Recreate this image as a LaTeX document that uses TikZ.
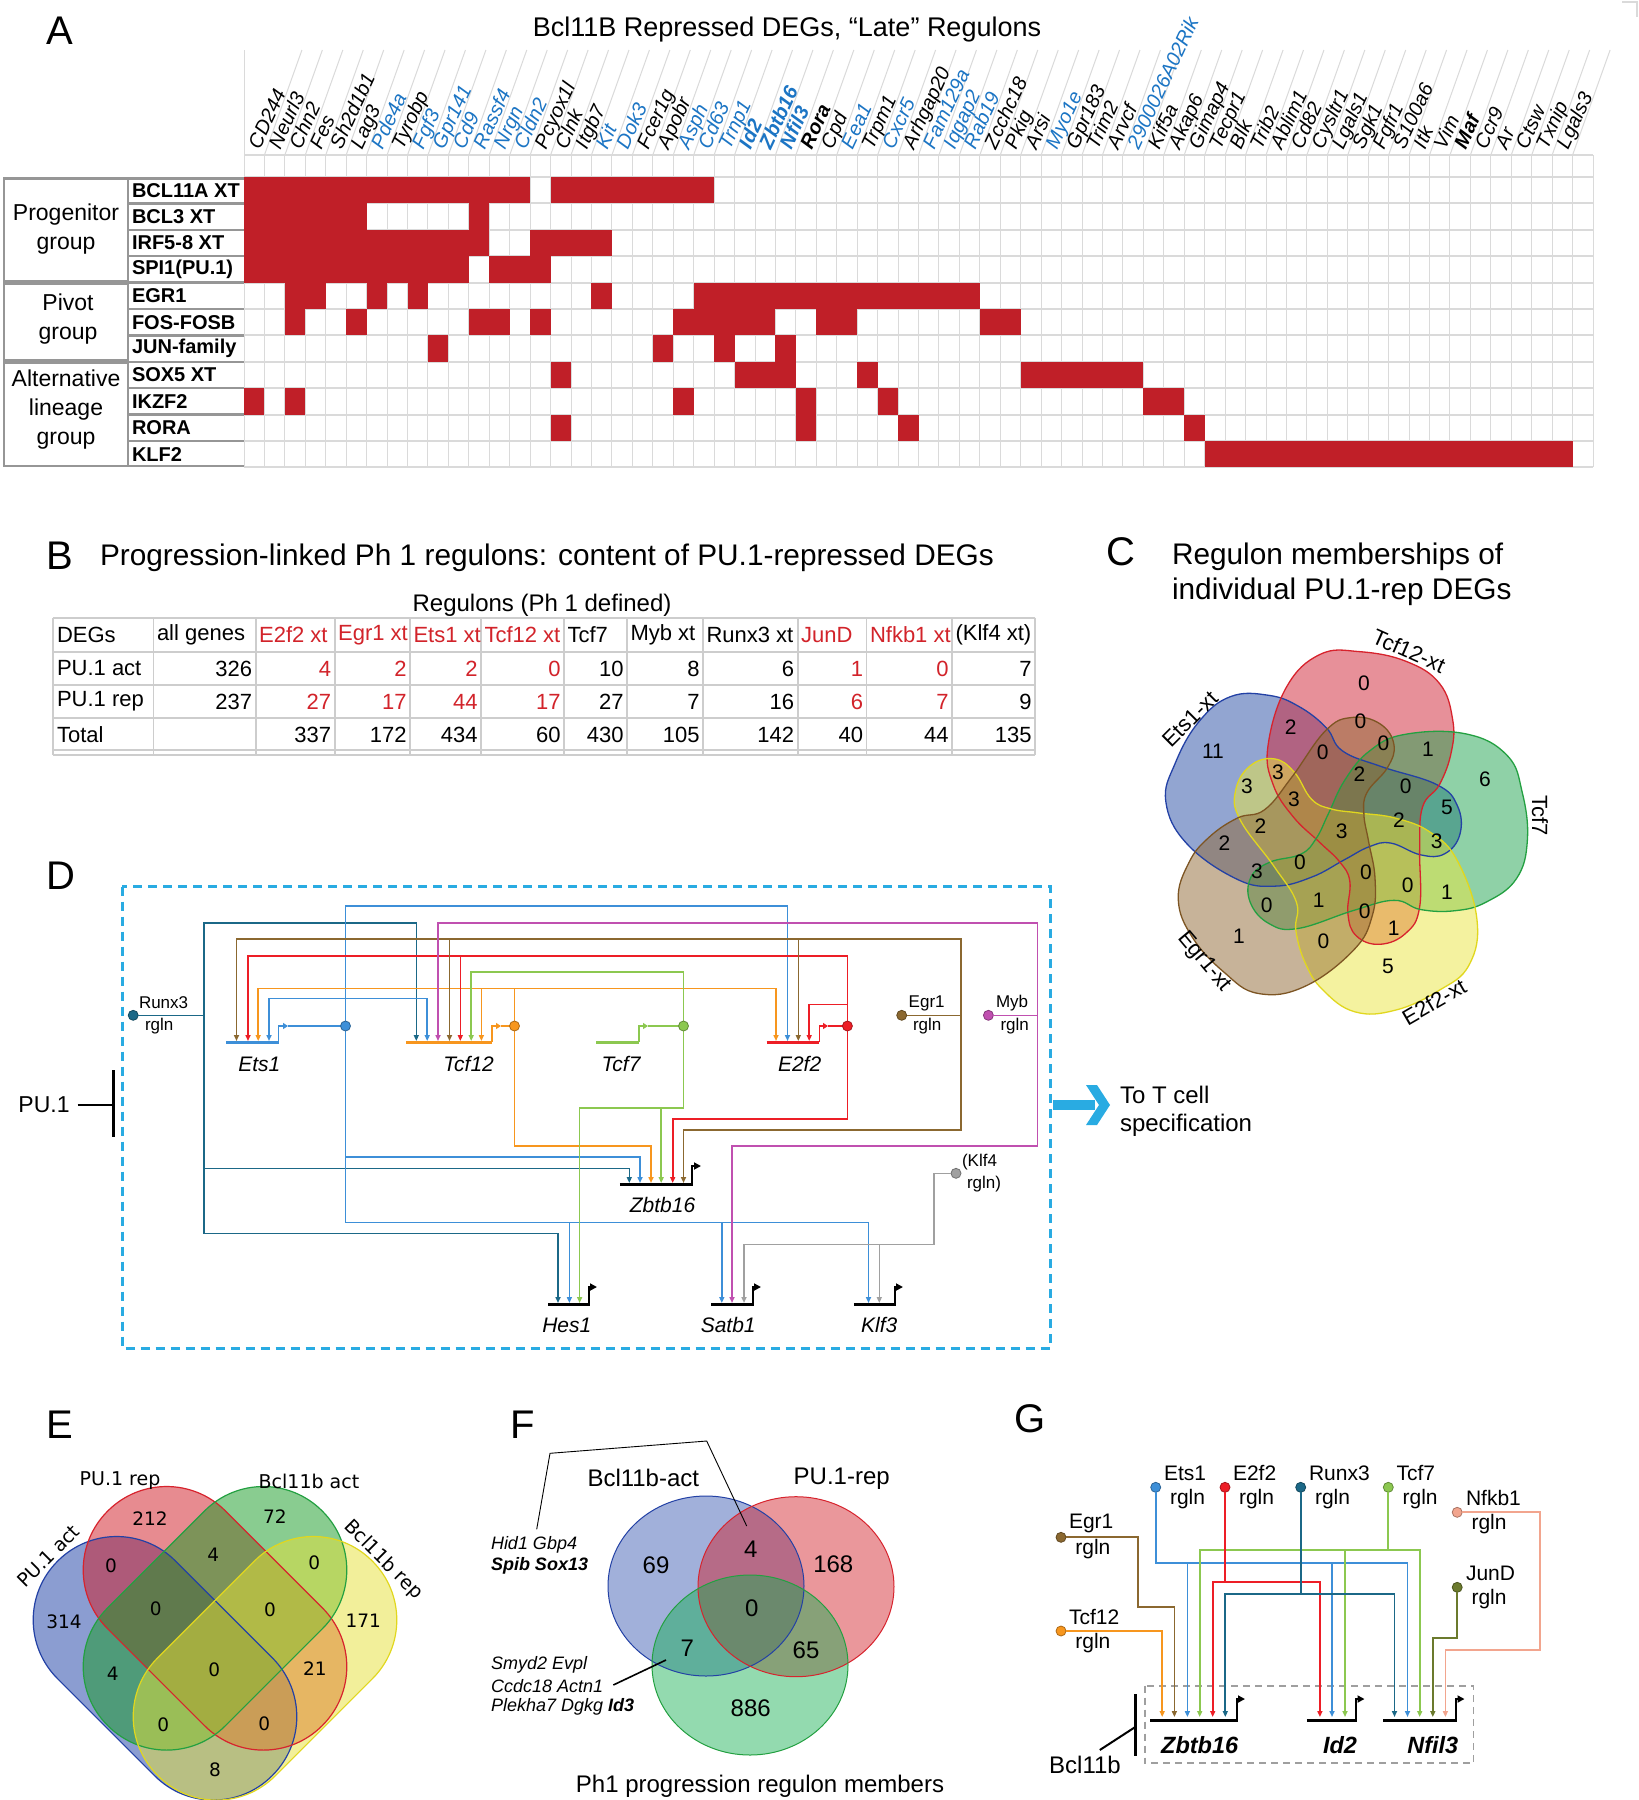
\documentclass[tikz,border=0pt]{standalone}
\usepackage{fontspec}
\setmainfont{Liberation Sans}
\newfontfamily\djv{DejaVu Sans}
\usetikzlibrary{arrows.meta}
\newcommand\fsz[1]{\fontsize{#1}{#1}\selectfont}
\definecolor{cellred}{RGB}{192,31,40}
\definecolor{geneblue}{RGB}{28,117,196}
\definecolor{gridc}{RGB}{218,218,218}
\definecolor{grpline}{RGB}{150,150,150}
\definecolor{tabred}{RGB}{210,35,42}
\definecolor{tabline}{RGB}{205,205,205}
\definecolor{vBlue}{RGB}{39,77,165}
\definecolor{vBlueD}{RGB}{35,65,165}
\definecolor{vRed}{RGB}{209,35,53}
\definecolor{vRedD}{RGB}{215,35,45}
\definecolor{vGreen}{RGB}{33,165,81}
\definecolor{vGreenD}{RGB}{35,160,65}
\definecolor{vYellow}{RGB}{235,231,65}
\definecolor{vYellowD}{RGB}{225,215,30}
\definecolor{vBrown}{RGB}{145,105,53}
\definecolor{vBrownD}{RGB}{125,85,35}
\definecolor{eBlue}{RGB}{25,61,165}
\definecolor{eRed}{RGB}{209,25,35}
\definecolor{eGreen}{RGB}{20,155,35}
\definecolor{eYellow}{RGB}{230,225,55}
\definecolor{cRunx}{RGB}{27,104,135}
\definecolor{cEts}{RGB}{61,143,216}
\definecolor{cTcf12}{RGB}{247,150,30}
\definecolor{cTcf7}{RGB}{140,200,80}
\definecolor{cE2f2}{RGB}{237,30,38}
\definecolor{cEgr1}{RGB}{139,104,48}
\definecolor{cMyb}{RGB}{192,80,176}
\definecolor{cKlf4}{RGB}{160,160,160}
\definecolor{cJunD}{RGB}{107,122,45}
\definecolor{cNfkb}{RGB}{242,165,142}
\definecolor{boxblue}{RGB}{41,171,226}
\begin{document}
\begin{tikzpicture}[x=1pt,y=-1pt,
  every node/.style={inner sep=0pt,outer sep=0pt},
  gk/.style={font=\fsz{20}\itshape,text=black},
  gb/.style={font=\fsz{20}\itshape,text=geneblue},
  gbb/.style={font=\fsz{20}\bfseries\itshape,text=geneblue},
  gkb/.style={font=\fsz{20}\bfseries\itshape,text=black},
  panlab/.style={font=\fsz{40}},
  tabtxt/.style={font=\fsz{22}},
  tfdot/.style={circle,minimum size=10pt,line width=0.8pt},
  wire/.style={line width=1.6pt},
  arr/.style={-{Triangle[length=6pt,width=5pt]}},
  parr/.style={line width=2pt,-{Triangle[length=7pt,width=7pt]}},
  dlab/.style={font=\fsz{17},anchor=west},
  glab/.style={font=\fsz{21},anchor=west},
  dgene/.style={font=\fsz{21}\itshape},
  cnum/.style={font=\fsz{21}},
  enum/.style={font=\djv\fsz{18.5}},
  fnum/.style={font=\fsz{24}},
  flist/.style={font=\fsz{18}\itshape,anchor=west}]
\fill[white] (0,0) rectangle (1639,1800);
\useasboundingbox (0,0) rectangle (1639,1800);

% ================= Panel A =================
\node[panlab] (labA) at (60,31) {A};
\node[font=\fsz{27}] (titleA) at (787,30) {Bcl11B Repressed DEGs, “Late” Regulons};
\draw[gridc,line width=1.5pt] (1622,2) -- (1637,2) -- (1637,17);
\draw[gridc,line width=1pt] (244,155) -- (244,50);
\foreach \k in {1,...,65} \draw[gridc,line width=1pt] ({244+\k*20.44},155) -- ++(37.5,-105);
\foreach \k in {0,...,66} \draw[gridc,line width=1pt] ({244+\k*20.44},155) -- ({244+\k*20.44},467.4);
\foreach \y in {155,177,203.4,229.8,256.2,282.6,309,335.4,361.8,388.2,414.6,441,467.4}
  \draw[gridc,line width=2pt] (244,\y) -- (1593,\y);
\foreach \r/\a/\b in {1/1/14,1/16/23,2/1/6,2/12/12,3/1/12,3/15/18,4/1/11,4/13/15,
  5/3/4,5/7/7,5/9/9,5/18/18,5/23/36,6/3/3,6/6/6,6/12/13,6/15/15,6/22/26,6/29/30,6/37/38,
  7/10/10,7/21/21,7/24/24,7/27/27,8/16/16,8/25/27,8/31/31,8/39/44,
  9/1/1,9/3/3,9/22/22,9/28/28,9/32/32,9/45/46,10/16/16,10/28/28,10/33/33,10/47/47,11/48/65}
  \fill[cellred] ({244+(\a-1)*20.44},{177+(\r-1)*26.4}) rectangle ({244+\b*20.44},{177+\r*26.4});
\foreach \g/\s [count=\i] in {CD244/gk,Neurl3/gk,Chn2/gk,Fes/gk,Sh2d1b1/gk,Lag3/gk,Pde4a/gb,Tyrobp/gk,
  Fgf3/gb,Gpr141/gb,Cd9/gb,Rassf4/gb,Nrgn/gb,Cldn2/gb,Pcyox1l/gk,Clnk/gk,Itgb7/gk,Kit/gb,Dok3/gb,
  Fcer1g/gk,Apobr/gk,Asph/gb,Cd63/gb,Trnp1/gb,Id2/gbb,Zbtb16/gbb,Nfil3/gbb,Rora/gkb,Cpd/gk,Eea1/gb,
  Trpm1/gk,Cxcr5/gb,Arhgap20/gk,Fam129a/gb,Iqgap2/gb,Rab19/gb,Zcchc18/gk,Pkig/gk,Arsi/gk,Myo1e/gb,
  Gpr183/gk,Trim2/gk,Arvcf/gk,2900026A02Rik/gb,Kif5a/gk,Akap6/gk,Gimap4/gk,Tecpr1/gk,Blk/gk,Trib2/gk,
  Ablim1/gk,Cd82/gk,Cysltr1/gk,Lgals1/gk,Sgk1/gk,Fgfr1/gk,S100a6/gk,Itk/gk,Vim/gk,Maf/gkb,Ccr9/gk,
  Ar/gk,Ctsw/gk,Txnip/gk,Lgals3/gk}
  \node[\s,rotate=65,anchor=base west] (gene\i) at ({244+\i*20.44-4.5},150) {\g};
\foreach \t [count=\i] in {BCL11A XT,BCL3 XT,IRF5-8 XT,SPI1(PU.1),EGR1,FOS-FOSB,JUN-family,SOX5 XT,IKZF2,RORA,KLF2}
  \node[font=\fsz{20}\bfseries,anchor=west] (row\i) at (132,{177+(\i-0.5)*26.4}) {\t};
\foreach \y in {178.5,203.4,229.8,256.2,282.6,309,335.4,361.8,388.2,414.6,441,466.2}
  \draw[grpline,line width=2.5pt] (128,\y) -- (244,\y);
\draw[grpline,line width=2.5pt] (4,178.5) rectangle (128,281.5);
\draw[grpline,line width=2.5pt] (4,284) rectangle (128,360.5);
\draw[grpline,line width=2.5pt] (4,363) rectangle (128,466.2);
\node[font=\fontsize{23}{28.7}\selectfont,align=center] (grp1) at (66,229) {Progenitor\\group};
\node[font=\fontsize{23}{28.7}\selectfont,align=center] (grp2) at (68,319) {Pivot\\group};
\node[font=\fontsize{23}{29}\selectfont,align=center] (grp3) at (66,410) {Alternative\\lineage\\group};

% ================= Panel B =================
\node[panlab] (labB) at (60,556) {B};
\node[font=\fsz{29.8},anchor=west] (titleB) at (100,558) {Progression-linked Ph 1 regulons: content of PU.1-repressed DEGs};
\node[font=\fsz{24}] (regB) at (542,605) {Regulons (Ph 1 defined)};
\foreach \y in {617.7,652,685,718,750,755.3} \draw[tabline,line width=1.8pt] (52.8,\y) -- (1035,\y);
\foreach \x in {52.8,153.5,255.6,334.6,410,481,564,627,703,797.6,866.5,952,1035}
  \draw[tabline,line width=1.8pt] (\x,617.7) -- (\x,755.3);
\node[tabtxt,anchor=west] (bh0) at (57,635) {DEGs};
\node[tabtxt,anchor=west] (bh1) at (57,668.5) {PU.1 act};
\node[tabtxt,anchor=west] (bh2) at (57,701.5) {PU.1 rep};
\node[tabtxt,anchor=west] (bh3) at (57,734.5) {Total};
\foreach \xl/\xr/\h/\a/\r/\t/\c [count=\i] in {153.5/255.6/all genes/326/237//black,
  255.6/334.6/E2f2 xt/4/27/337/tabred, 334.6/410/Egr1 xt/2/17/172/tabred,
  410/481/Ets1 xt/2/44/434/tabred, 481/564/Tcf12 xt/0/17/60/tabred,
  564/627/Tcf7/10/27/430/black, 627/703/Myb xt/8/7/105/black,
  703/797.6/Runx3 xt/6/16/142/black, 797.6/866.5/JunD/1/6/40/tabred,
  866.5/952/Nfkb1 xt/0/7/44/tabred, 952/1035/(Klf4 xt)/7/9/135/black}
{
  \node[tabtxt,anchor=west,text=\c] (bc\i h) at (\xl+3.5,635) {\h};
  \node[tabtxt,anchor=east,text=\c] (bc\i a) at (\xr-3.5,668.5) {\a};
  \node[tabtxt,anchor=east,text=\c] (bc\i r) at (\xr-3.5,701.5) {\r};
  \node[tabtxt,anchor=east] (bc\i t) at (\xr-3.5,734.5) {\t};
}

% ================= Panel C =================
\node[panlab] (labC) at (1121,552) {C};
\node[font=\fsz{29.8},anchor=west] (titC1) at (1172,557) {Regulon memberships of};
\node[font=\fsz{29.8},anchor=west] (titC2) at (1172,592) {individual PU.1-rep DEGs};
\foreach \rot/\fc in {72/vBlue,0/vRed,-72/vGreen,-144/vYellow,144/vBrown}
  \fill[\fc,fill opacity=0.5,shift={(1344,834)},rotate=\rot,scale=0.97] plot[smooth cycle,tension=0.7] coordinates
  {(-78.3,-91.3) (-59.4,-151.3) (-25,-185) (16,-188) (64,-178) (98.6,-155) (112,-118) (110.7,-85)
   (98.6,-51.3) (81,-28) (78,15) (78,75) (64,102) (37,113.7) (12.7,105) (4,82) (6,48.7) (-4.5,28.7)
   (-25,8.7) (-52.6,-18) (-73.2,-51.3)};
\foreach \rot/\dc in {72/vBlueD,0/vRedD,-72/vGreenD,-144/vYellowD,144/vBrownD}
  \draw[\dc,line width=1.3pt,shift={(1344,834)},rotate=\rot,scale=0.97] plot[smooth cycle,tension=0.7] coordinates
  {(-78.3,-91.3) (-59.4,-151.3) (-25,-185) (16,-188) (64,-178) (98.6,-155) (112,-118) (110.7,-85)
   (98.6,-51.3) (81,-28) (78,15) (78,75) (64,102) (37,113.7) (12.7,105) (4,82) (6,48.7) (-4.5,28.7)
   (-25,8.7) (-52.6,-18) (-73.2,-51.3)};
\foreach \x/\y/\n [count=\i] in {1364/683/0,1290.7/726.7/2,1360.5/721.7/0,1383.5/743/0,1428/749/1,1213/751.7/11,
  1322.7/752.7/0,1278/772/3,1359.5/774/2,1485/779/6,1247/786/3,1405.8/786.7/0,1294/799/3,1447/807/5,
  1399/820/2,1260.5/825.7/2,1341.6/831/3,1224.4/843/2,1436.8/841.7/3,1300/862/0,1257/871.7/3,
  1366/872.7/0,1407.6/885/0,1447/892/1,1266.7/905/0,1318.6/900/1,1364.6/911.7/0,1393.8/928/1,
  1239/936.7/1,1323.4/941.7/0,1388/966.7/5}
  \node[cnum] (cn\i) at (\x,\y) {\n};
\node[font=\fsz{22},rotate=-24] (cTcf12lab) at (1409,651) {Tcf12-xt};
\node[font=\fsz{22},rotate=45] (cEts1lab) at (1190,719) {Ets1-xt};
\node[font=\fsz{22},rotate=-90] (cTcf7lab) at (1540,816) {Tcf7};
\node[font=\fsz{22},rotate=30] (cE2f2lab) at (1434,1002) {E2f2-xt};
\node[font=\fsz{22},rotate=-50] (cEgr1lab) at (1204,962) {Egr1-xt};

% ================= Panel D =================
\node[panlab] (labD) at (61,876) {D};
\draw[boxblue,line width=2.5pt,dash pattern=on 9pt off 6pt] (122.3,886.7) rectangle (1050.3,1348.3);
\node[font=\fsz{23}] (pu1) at (44,1105) {PU.1};
\draw[line width=2pt] ([xshift=8pt]pu1.east) -- (113,1105);
\draw[line width=3pt] (113,1070) -- (113,1137);
\fill[boxblue] (1053,1100) rectangle (1095,1110);
\fill[boxblue] (1086,1085) -- (1097,1085) -- (1110,1105) -- (1097,1125) -- (1086,1125) -- (1099,1105) -- cycle;
\node[font=\fsz{24},anchor=west] (tcell1) at (1120,1095) {To T cell};
\node[font=\fsz{24},anchor=west] (tcell2) at (1120,1125) {specification};
\node[tfdot,fill=cRunx,draw=cRunx!70!black] (runx3) at (133.2,1015.3) {};
\node[tfdot,fill=cEgr1,draw=cEgr1!70!black] (egr1) at (901.7,1015.3) {};
\node[tfdot,fill=cMyb,draw=cMyb!70!black] (myb) at (988.4,1015.3) {};
\node[tfdot,fill=cKlf4,draw=cKlf4!70!black] (klf4) at (956,1173.3) {};
\node[dlab] (runx3a) at (139,1003) {Runx3};
\node[dlab] (runx3b) at (145,1026) {rgln};
\node[dlab] (egr1a) at (908.7,1003) {Egr1};
\node[dlab] (egr1b) at (913,1026) {rgln};
\node[dlab] (myba) at (996,1003) {Myb};
\node[dlab] (mybb) at (1000.5,1026) {rgln};
\node[dlab] (klf4a) at (962,1162) {(Klf4};
\node[dlab] (klf4b) at (967,1184) {rgln)};
\draw[cEts,line width=3pt] (226.3,1042.3) -- (278.6,1042.3);
\draw[cTcf12,line width=3pt] (406,1042.3) -- (492.2,1042.3);
\draw[cTcf7,line width=3pt] (596.2,1042.3) -- (639,1042.3);
\draw[cE2f2,line width=3pt] (766.5,1042.3) -- (819.4,1042.3);
\draw[cEts,wire,-{Triangle[length=5pt,width=6pt]}] (278.6,1042.3) -- (278.6,1026) -- (288,1026);
\draw[cTcf12,wire,-{Triangle[length=5pt,width=6pt]}] (492.2,1042.3) -- (492.2,1026) -- (501,1026);
\draw[cTcf7,wire,-{Triangle[length=5pt,width=6pt]}] (639,1042.3) -- (639,1026) -- (648,1026);
\draw[cE2f2,wire,-{Triangle[length=5pt,width=6pt]}] (819.4,1042.3) -- (819.4,1026) -- (828,1026);
\coordinate (ets1o) at (345.5,1026);
\coordinate (tcf12o) at (514.5,1026);
\coordinate (tcf7o) at (683.5,1026);
\coordinate (e2f2o) at (847.4,1026);
\draw[cEts,wire] (288,1026) -- (ets1o);
\draw[cTcf12,wire] (501,1026) -- (tcf12o);
\draw[cTcf7,wire] (648,1026) -- (tcf7o);
\draw[cE2f2,wire] (828,1026) -- (e2f2o);
\draw[line width=3pt] (619.8,1184.3) -- (693,1184.3);
\draw[parr] (692,1184.3) -- (692,1166) -- (701,1166);
\draw[line width=3pt] (548.3,1304.3) -- (589.8,1304.3);
\draw[parr] (589,1304.3) -- (589,1287) -- (597,1287);
\draw[line width=3pt] (711,1304.3) -- (753.7,1304.3);
\draw[parr] (753,1304.3) -- (753,1287) -- (761,1287);
\draw[line width=3pt] (853.8,1304.3) -- (896,1304.3);
\draw[parr] (895,1304.3) -- (895,1287) -- (903,1287);
\draw[cRunx,wire] (runx3) -- (204,1015.3);
\draw[cRunx,wire,arr] (204,1015.3) -- (204,922.7) -- (416.3,922.7) -- (416.3,1041);
\draw[cRunx,wire,arr] (204,1015.3) -- (204,1233.3) -- (558,1233.3) -- (558,1303);
\draw[cRunx,wire,arr] (204,1168.3) -- (629.3,1168.3) -- (629.3,1183);
\draw[cEts,wire,arr] (ets1o) -- (345.5,906) -- (787.5,906) -- (787.5,1041);
\draw[cEts,wire,arr] (345.5,998.3) -- (269,998.3) -- (269,1041);
\draw[cEts,wire,arr] (345.5,998.3) -- (427.2,998.3) -- (427.2,1041);
\draw[cEts,wire,arr] (ets1o) -- (345.5,1156.7) -- (640,1156.7) -- (640,1183);
\draw[cEts,wire,arr] (345.5,1156.7) -- (345.5,1222.3) -- (868.5,1222.3) -- (868.5,1303);
\draw[cEts,wire,arr] (569.4,1222.3) -- (569.4,1303);
\draw[cEts,wire,arr] (721.8,1222.3) -- (721.8,1303);
\draw[cTcf12,wire,arr] (tcf12o) -- (514.5,988.3) -- (258.2,988.3) -- (258.2,1041);
\draw[cTcf12,wire,arr] (481.4,988.3) -- (481.4,1041);
\draw[cTcf12,wire,arr] (514.5,988.3) -- (776,988.3) -- (776,1041);
\draw[cTcf12,wire,arr] (tcf12o) -- (514.5,1146) -- (651,1146) -- (651,1183);
\draw[cTcf7,wire,arr] (tcf7o) -- (683.5,971.7) -- (471.2,971.7) -- (471.2,1041);
\draw[cTcf7,wire,arr] (tcf7o) -- (683.5,1107.7) -- (579.6,1107.7) -- (579.6,1303);
\draw[cTcf7,wire,arr] (661.2,1107.7) -- (661.2,1183);
\draw[cE2f2,wire,arr] (e2f2o) -- (847.4,955.7) -- (248,955.7) -- (248,1041);
\draw[cE2f2,wire,arr] (460.3,955.7) -- (460.3,1041);
\draw[cE2f2,wire,arr] (847.4,1004.3) -- (809.2,1004.3) -- (809.2,1041);
\draw[cE2f2,wire,arr] (e2f2o) -- (847.4,1118.7) -- (672.7,1118.7) -- (672.7,1183);
\draw[cEgr1,wire] (egr1) -- (961,1015.3);
\draw[cEgr1,wire,arr] (961,1015.3) -- (961,939) -- (236.5,939) -- (236.5,1041);
\draw[cEgr1,wire,arr] (449.5,939) -- (449.5,1041);
\draw[cEgr1,wire,arr] (798.3,939) -- (798.3,1041);
\draw[cEgr1,wire,arr] (961,1015.3) -- (961,1129.7) -- (683.5,1129.7) -- (683.5,1183);
\draw[cMyb,wire] (myb) -- (1037.5,1015.3);
\draw[cMyb,wire,arr] (1037.5,1015.3) -- (1037.5,922.7) -- (438,922.7) -- (438,1041);
\draw[cMyb,wire,arr] (1037.5,1015.3) -- (1037.5,1146) -- (732,1146) -- (732,1303);
\draw[cKlf4,wire,arr] (klf4) -- (934,1173.3) -- (934,1244.3) -- (744,1244.3) -- (744,1303);
\draw[cKlf4,wire,arr] (879.3,1244.3) -- (879.3,1303);
\node[tfdot,fill=cEts,draw=cEts!70!black] (ets1dot) at (ets1o) {};
\node[tfdot,fill=cTcf12,draw=cTcf12!70!black] (tcf12dot) at (tcf12o) {};
\node[tfdot,fill=cTcf7,draw=cTcf7!70!black] (tcf7dot) at (tcf7o) {};
\node[tfdot,fill=cE2f2,draw=cE2f2!70!black] (e2f2dot) at (e2f2o) {};
\node[dgene] (dEts1) at (259.4,1064) {Ets1};
\node[dgene] (dTcf12) at (468.6,1064) {Tcf12};
\node[dgene] (dTcf7) at (621,1064) {Tcf7};
\node[dgene] (dE2f2) at (799.6,1064) {E2f2};
\node[dgene] (dZbtb16) at (662.5,1205) {Zbtb16};
\node[dgene] (dHes1) at (566.8,1325) {Hes1};
\node[dgene] (dSatb1) at (728.2,1325) {Satb1};
\node[dgene] (dKlf3) at (879.3,1325) {Klf3};

% ================= Panel E =================
\node[panlab] (labE) at (60,1425) {E};
\foreach \cx/\cy/\rot/\fc in {165/1668.3/-45/eBlue,215/1618.3/-45/eRed,215/1618.3/45/eGreen,265/1668.3/45/eYellow}
  \fill[\fc,fill opacity=0.5,shift={(\cx,\cy)},rotate=\rot,rounded corners=83pt] (-151.7,-83.3) rectangle (151.7,83.3);
\foreach \cx/\cy/\rot/\dc in {165/1668.3/-45/vBlueD,215/1618.3/-45/vRedD,215/1618.3/45/vGreenD,265/1668.3/45/vYellowD}
  \draw[\dc,line width=1.2pt,shift={(\cx,\cy)},rotate=\rot,rounded corners=83pt] (-151.7,-83.3) rectangle (151.7,83.3);
\foreach \x/\y/\n [count=\i] in {150/1518.3/212,275/1516.7/72,111/1565.7/0,213.3/1555/4,314.3/1562.3/0,
  64/1621.7/314,155.7/1608.3/0,270/1610/0,363.3/1621/171,112.7/1673.3/4,214.3/1670/0,315/1668.3/21,
  163.3/1725/0,264.3/1724/0,215/1769.3/8}
  \node[enum] (en\i) at (\x,\y) {\n};
\node[font=\djv\fsz{19}] (eL1) at (120,1481) {PU.1 rep};
\node[font=\djv\fsz{19}] (eL2) at (309,1481) {Bcl11b act};
\node[font=\djv\fsz{19},rotate=45] (eL3) at (48.3,1556) {PU.1 act};
\node[font=\djv\fsz{19},rotate=-45] (eL4) at (383.3,1560) {Bcl11b rep};

% ================= Panel F =================
\node[panlab] (labF) at (523,1425) {F};
\fill[eBlue!90!white,fill opacity=0.45] (706,1586) ellipse [x radius=98pt,y radius=90pt];
\fill[eRed,fill opacity=0.45] (796,1586.7) ellipse [x radius=98pt,y radius=90pt];
\fill[eGreen!80!cyan,fill opacity=0.45] (750,1665) ellipse [x radius=98pt,y radius=90pt];
\draw[vBlueD,line width=1pt] (706,1586) ellipse [x radius=98pt,y radius=90pt];
\draw[vRedD,line width=1pt] (796,1586.7) ellipse [x radius=98pt,y radius=90pt];
\draw[vGreenD,line width=1pt] (750,1665) ellipse [x radius=98pt,y radius=90pt];
\node[fnum] (fn1) at (656,1565) {69};
\node[fnum] (fn2) at (750.7,1549) {4};
\node[fnum] (fn3) at (833.3,1564) {168};
\node[fnum] (fn4) at (751.7,1608.3) {0};
\node[fnum] (fn5) at (687.3,1648.3) {7};
\node[fnum] (fn6) at (806,1650.7) {65};
\node[fnum] (fn7) at (750.7,1708.3) {886};
\node[font=\fsz{24}] (fL1) at (643.3,1478.3) {Bcl11b-act};
\node[font=\fsz{24}] (fL2) at (841.7,1478.3) {PU.1-rep};
\node[font=\fsz{24}] (fL3) at (760,1786.7) {Ph1 progression regulon members};
\node[flist] (fg1) at (491,1545) {Hid1 Gbp4};
\node[flist,font=\fsz{18}\bfseries\itshape] (fg2) at (491,1566) {Spib Sox13};
\node[flist] (fg3) at (491,1665) {Smyd2 Evpl};
\node[flist] (fg4) at (491,1686) {Ccdc18 Actn1};
\node[flist] (fg5) at (491,1707.3) {Plekha7 Dgkg \textbf{Id3}};
\draw[line width=0.9pt] (536.7,1529.3) -- (550,1453.3) -- (706.7,1441) -- (746.7,1526);
\draw[line width=1.6pt] (613.3,1685) -- (666,1660);

% ================= Panel G =================
\node[panlab] (labG) at (1030,1419) {G};
\draw[gray!75,line width=1.8pt,dash pattern=on 7pt off 5pt] (1144.7,1685.7) rectangle (1473.5,1763.3);
\draw[line width=3pt] (1150,1720) -- (1237.6,1720);
\draw[parr] (1236.6,1720) -- (1236.6,1699) -- (1245,1699);
\draw[line width=3pt] (1306.8,1720) -- (1357,1720);
\draw[parr] (1356,1720) -- (1356,1699) -- (1364.5,1699);
\draw[line width=3pt] (1383,1720) -- (1457.2,1720);
\draw[parr] (1456.2,1720) -- (1456.2,1699) -- (1464.5,1699);
\node[font=\fsz{23.5}\bfseries\itshape] (gZb) at (1199.7,1745) {Zbtb16};
\node[font=\fsz{23.5}\bfseries\itshape] (gId) at (1340,1745) {Id2};
\node[font=\fsz{23.5}\bfseries\itshape] (gNf) at (1432.8,1745) {Nfil3};
\draw[line width=3pt] (1135.7,1694) -- (1135.7,1756);
\draw[line width=2pt] (1099.8,1750) -- (1135.7,1726.7);
\node[font=\fsz{24}] (gBcl) at (1085,1765) {Bcl11b};
\node[tfdot,fill=cEts,draw=cEts!70!black] (gEts1) at (1155.7,1487.3) {};
\node[tfdot,fill=cE2f2,draw=cE2f2!70!black] (gE2f2) at (1225,1487.3) {};
\node[tfdot,fill=cRunx,draw=cRunx!70!black] (gRunx3) at (1300.7,1487.3) {};
\node[tfdot,fill=cTcf7,draw=cTcf7!70!black] (gTcf7) at (1388.3,1487.3) {};
\node[tfdot,fill=cNfkb,draw=cNfkb!70!black] (gNfkb1) at (1457.2,1512.3) {};
\node[tfdot,fill=cEgr1,draw=cEgr1!70!black] (gEgr1) at (1061,1537.3) {};
\node[tfdot,fill=cJunD,draw=cJunD!70!black] (gJunD) at (1457.2,1587.3) {};
\node[tfdot,fill=cTcf12,draw=cTcf12!70!black] (gTcf12) at (1061,1631) {};
\node[glab] (gl1) at (1164,1473) {Ets1};
\node[glab] (gl2) at (1170,1499) {rgln};
\node[glab] (gl3) at (1233,1473) {E2f2};
\node[glab] (gl4) at (1239,1499) {rgln};
\node[glab] (gl5) at (1309,1473) {Runx3};
\node[glab] (gl6) at (1315,1499) {rgln};
\node[glab] (gl7) at (1396.5,1473) {Tcf7};
\node[glab] (gl8) at (1402.6,1499) {rgln};
\node[glab] (gl9) at (1466,1498.3) {Nfkb1};
\node[glab] (gl10) at (1471.5,1524) {rgln};
\node[glab] (gl11) at (1069,1523.3) {Egr1};
\node[glab] (gl12) at (1075.4,1549.3) {rgln};
\node[glab] (gl13) at (1466,1573.3) {JunD};
\node[glab] (gl14) at (1471.5,1599.3) {rgln};
\node[glab] (gl15) at (1069,1617.3) {Tcf12};
\node[glab] (gl16) at (1075.4,1643.3) {rgln};
\begin{scope}[line width=1.7pt]
\draw[cEgr1,arr] (gEgr1) -- (1137.7,1537.3) -- (1137.7,1606.7) -- (1174.4,1606.7) -- (1174.4,1717);
\draw[cTcf12,arr] (gTcf12) -- (1162.2,1631) -- (1162.2,1717);
\draw[cEts,arr] (gEts1) -- (1155.7,1562.7) -- (1407.5,1562.7) -- (1407.5,1717);
\draw[cEts,arr] (1187.4,1562.7) -- (1187.4,1717);
\draw[cEts,arr] (1332,1562.7) -- (1332,1717);
\draw[cTcf7] (gTcf7) -- (1388.3,1550);
\draw[cTcf7,arr] (1388.3,1550) -- (1199.7,1550) -- (1199.7,1717);
\draw[cTcf7,arr] (1388.3,1550) -- (1419.7,1550) -- (1419.7,1717);
\draw[cTcf7,arr] (1345,1550) -- (1345,1717);
\draw[cE2f2] (gE2f2) -- (1225,1581.7);
\draw[cE2f2,arr] (1225,1581.7) -- (1212.7,1581.7) -- (1212.7,1717);
\draw[cE2f2,arr] (1225,1581.7) -- (1319.9,1581.7) -- (1319.9,1717);
\draw[cRunx] (gRunx3) -- (1300.7,1594);
\draw[cRunx,arr] (1300.7,1594) -- (1225.3,1594) -- (1225.3,1717);
\draw[cRunx,arr] (1300.7,1594) -- (1394.5,1594) -- (1394.5,1717);
\draw[cJunD,arr] (gJunD) -- (1457.2,1637.7) -- (1432.8,1637.7) -- (1432.8,1717);
\draw[cNfkb,arr] (gNfkb1) -- (1540,1512.3) -- (1540,1650) -- (1445.4,1650) -- (1445.4,1717);
\end{scope}
\end{tikzpicture}
\end{document}
